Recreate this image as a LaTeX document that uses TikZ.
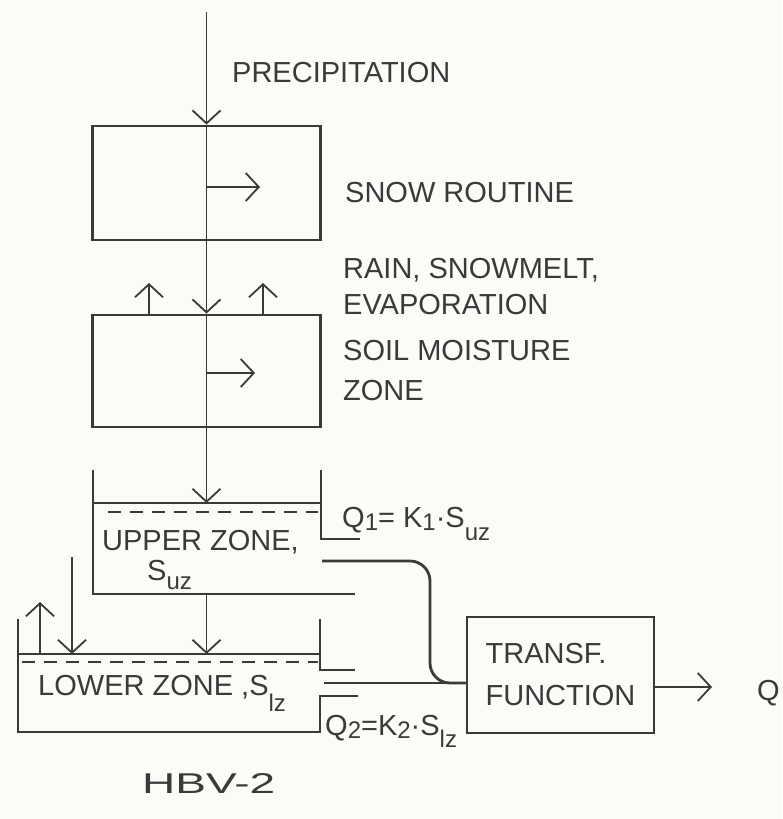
\documentclass[tikz,border=0pt]{standalone}
\usepackage{fontspec}
\setmainfont{Liberation Sans}
\usetikzlibrary{arrows.meta,calc}
\definecolor{ink}{HTML}{3A3A3A}
\definecolor{paper}{HTML}{FBFBF8}
\newcommand\dsub[1]{\raisebox{-3pt}{\fontsize{24}{24}\selectfont #1}}
\newcommand\lsub[2][12pt]{\raisebox{-#1}{\fontsize{24}{24}\selectfont #2}}
\begin{document}
\begin{tikzpicture}[x=1pt,y=-1pt,
  flow/.style={draw=ink,line width=1.8pt,-{Straight Barb[length=13pt,width=28pt,line width=1.8pt]}},
  thinline/.style={draw=ink,line width=1.8pt},
  tank/.style={draw=ink,line width=2.8pt,line join=miter},
  level/.style={draw=ink,line width=1.8pt,dash pattern=on 13pt off 9pt},
  lbl/.style={text=ink,inner sep=0pt,anchor=base west,font=\fontsize{29}{34}\selectfont},
  procbox/.style={draw=ink,line width=2.8pt,rectangle,inner sep=0pt}]
\fill[paper] (0,0) rectangle (782,819);
\useasboundingbox (0,0) rectangle (782,819);

% process boxes
\node[procbox,minimum width=228pt,minimum height=114pt] (snow) at (206.5,183) {};
\node[procbox,minimum width=228pt,minimum height=112pt] (soil) at (206.5,371) {};
\node[procbox,minimum width=187pt,minimum height=116pt,align=left,text=ink,
      font=\fontsize{29}{42}\selectfont] (transf) at (560.5,675) {TRANSF.\\FUNCTION};

% coordinates
\coordinate (src) at (206.5,12);
\coordinate (uzW) at (93,503);
\coordinate (snowR) at (260,187);
\coordinate (soilR) at (255,373);
\coordinate (evL) at (149,283);
\coordinate (evR) at (263,283);
\coordinate (uzOut) at (206.5,594);
\coordinate (lzW) at (18,654);
\coordinate (lzIn) at (206.5,654);
\coordinate (gwTop) at (72,557);
\coordinate (lzEv) at (40,602);
\coordinate (p1) at (322,561);
\coordinate (p2) at (430,683);
\coordinate (p3) at (324,683);
\coordinate (outEnd) at (712,687);

% upper tank
\draw[tank] (93,470) -- (93,594) -- (355,594);
\draw[tank] (321,470) -- (321,539) -- (360,539);
\draw[thinline] (93,503) -- (321,503);
\draw[level] (108,512) -- (318,512);

% lower tank
\draw[tank] (18,619) -- (18,732) -- (320,732) -- (320,696) -- (358,696);
\draw[tank] (320,619) -- (320,670) -- (355,670);
\draw[thinline] (18,654) -- (320,654);
\draw[level] (22,662) -- (318,662);

% pipes
\draw[tank,rounded corners=20pt] (p1) -| (p2) -- (p2 -| transf.west);
\draw[tank] (p3) -- (p3 -| transf.west);

% flows
\draw[flow] (src) -- (snow.north);
\draw[thinline] (snow.north) -- (snow.south);
\draw[flow] (snow.south) -- (soil.north);
\draw[thinline] (soil.north) -- (soil.south);
\draw[flow] (soil.south) -- (soil.south |- uzW);
\draw[flow] (snowR -| snow.north) -- (snowR);
\draw[flow] (soilR -| soil.north) -- (soilR);
\draw[flow] (evL |- soil.north) -- (evL);
\draw[flow] (evR |- soil.north) -- (evR);
\draw[flow] (uzOut) -- (lzIn);
\draw[flow] (gwTop) -- (gwTop |- lzW);
\draw[flow] (lzEv |- lzW) -- (lzEv);
\draw[flow] (transf.east |- outEnd) -- (outEnd);

% labels
\node[lbl] (precip) at (232,82) {PRECIPITATION};
\node[lbl] (snowlbl) at (345,202) {SNOW ROUTINE};
\node[lbl] (rain) at (343,278) {RAIN, SNOWMELT,};
\node[lbl] (evap) at (343,314) {EVAPORATION};
\node[lbl] (soil1) at (343,360) {SOIL MOISTURE};
\node[lbl] (soil2) at (343,400) {ZONE};
\node[lbl] (q1) at (342,527) {Q\dsub{1}= K\dsub{1}·S\lsub[13pt]{uz}};
\node[lbl] (uzl) at (102,550) {UPPER ZONE,};
\node[lbl] (suz) at (147,580) {S\lsub[9pt]{uz}};
\node[lbl] (lzl) at (38,695) {LOWER ZONE ,S\lsub[16pt]{lz}};
\node[lbl] (q2) at (325,735) {Q\dsub{2}=K\dsub{2}·S\lsub[12pt]{lz}};
\node[lbl] (qout) at (757,700) {Q};
\node[lbl] (hbv) at (142,793) {\resizebox{133pt}{20pt}{HBV-2}};
\end{tikzpicture}
\end{document}
